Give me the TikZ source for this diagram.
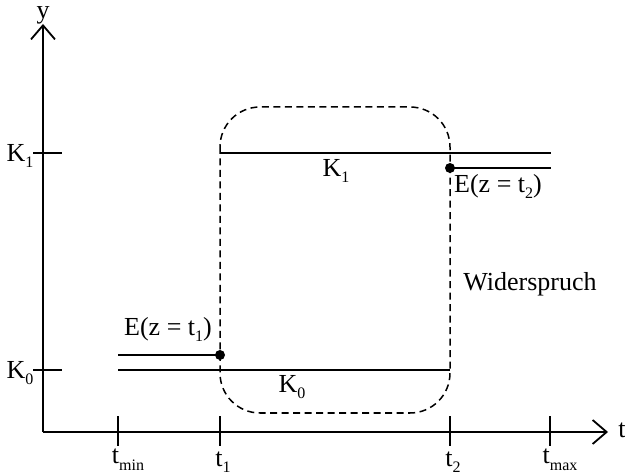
\documentclass[tikz,border=0pt]{standalone}
\usepackage{fontspec}
\setmainfont{Liberation Serif}
\usetikzlibrary{arrows.meta}
\newcommand\subs[1]{\raisebox{-6pt}{\fontsize{16}{16}\selectfont #1}}
\begin{document}
\begin{tikzpicture}[x=1pt,y=-1pt,
  line width=1.8pt,
  lbl/.style={inner sep=0pt,font=\fontsize{26}{29}\selectfont},
  axis/.style={line width=1.8pt,-{Straight Barb[length=14pt,width=24pt,line width=1.8pt]}},
  dot/.style={circle,fill=black,inner sep=0pt,minimum size=10pt},
  box/.style={dashed,dash pattern=on 7pt off 4.5pt,line width=1.5pt,rounded corners=40pt}]
\useasboundingbox (0,0) rectangle (625,476);
% axes
\coordinate (O) at (43,432);
\coordinate (yend) at (43,24);
\coordinate (xend) at (608,432);
\draw[axis] (O) -- (yend);
\draw[axis] (O) -- (xend);
\node[lbl,anchor=base] (ylab) at (43,19) {y};
\node[lbl] (tlab) at (622,430) {t};
% y ticks
\coordinate (k1a) at (33,153); \coordinate (k1b) at (62,153);
\coordinate (k0a) at (33,370); \coordinate (k0b) at (62,370);
\draw (k1a) -- (k1b);
\draw (k0a) -- (k0b);
\node[lbl] (K1lab) at (20,156) {K\subs{1}};
\node[lbl] (K0lab) at (20,373) {K\subs{0}};
% x ticks
\foreach \n/\x in {tmin/118,tone/220,ttwo/450,tmax/550}{
  \coordinate (\n a) at (\x,416); \coordinate (\n b) at (\x,446);
  \draw (\n a) -- (\n b);
}
\node[lbl,anchor=base] (tminlab) at (128,464) {t\subs{min}};
\node[lbl,anchor=base] (t1lab) at (223,466) {t\subs{1}};
\node[lbl,anchor=base] (t2lab) at (453,466) {t\subs{2}};
\node[lbl,anchor=base] (tmaxlab) at (560,464) {t\subs{max}};
% levels
\coordinate (a1) at (220,153); \coordinate (a2) at (551,153);
\draw (a1) -- (a2);
\node[dot] (d2) at (450,168) {};
\coordinate (b2) at (551,168);
\draw (d2.center) -- (b2);
\coordinate (c1) at (118,370); \coordinate (c2) at (450,370);
\draw (c1) -- (c2);
\coordinate (e1) at (118,355);
\node[dot] (d1) at (220,355) {};
\draw (e1) -- (d1.center);
% dashed box
\draw[box] (220,107) rectangle (450,413);
% labels
\node[lbl] (K1t) at (336,171) {K\subs{1}};
\node[lbl] (K0t) at (292,387) {K\subs{0}};
\node[lbl] (E1) at (168,329) {E(z = t\subs{1})};
\node[lbl] (E2) at (498,186) {E(z = t\subs{2})};
\node[lbl] (W) at (530,284) {Widerspruch};
\end{tikzpicture}
\end{document}
